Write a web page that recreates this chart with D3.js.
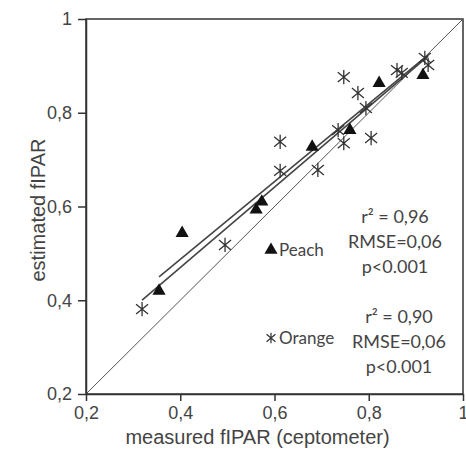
<!DOCTYPE html>
<html>
<head>
<meta charset="utf-8">
<script src="https://cdn.jsdelivr.net/npm/d3@7"></script>
<style>
    body { margin: 0; background: #fff; }
</style>
</head>
<body>
<svg id="drawing_region"></svg>
<script>
// peach (triangles)
const peach_x = [0.355, 0.404, 0.561, 0.573, 0.680, 0.760, 0.822, 0.915];
const peach_y = [0.420, 0.543, 0.593, 0.610, 0.727, 0.763, 0.863, 0.880];
// orange (asterisks)
const orange_x = [0.319, 0.495, 0.612, 0.612, 0.692, 0.747, 0.735, 0.805, 0.747, 0.777, 0.794, 0.860, 0.870, 0.919, 0.926];
const orange_y = [0.381, 0.518, 0.676, 0.738, 0.678, 0.735, 0.763, 0.746, 0.876, 0.842, 0.810, 0.891, 0.885, 0.917, 0.902];
// regression fits [slope, intercept]
const peach_fit = [0.83, 0.155];
const orange_fit = [0.857, 0.127];

const x_ticks = [0.2, 0.4, 0.6, 0.8, 1];
const y_ticks = [0.2, 0.4, 0.6, 0.8, 1];
const peach_stats = ["r\u00b2 = 0,96", "RMSE=0,06", "p<0.001"];
const orange_stats = ["r\u00b2 = 0,90", "RMSE=0,06", "p<0.001"];

var config = {
    parent: '#drawing_region',
    width: 466,
    height: 457,
    margin: {top:19, right:3, bottom:63, left:86}
};

// asterisk marker: vertical bar plus an X
const asterisk = {
    draw: function(context, size) {
        const r = Math.sqrt(size) / 2;
        context.moveTo(0, -r); context.lineTo(0, r);
        context.moveTo(-r * 0.85, -r * 0.7); context.lineTo(r * 0.85, r * 0.7);
        context.moveTo(-r * 0.85, r * 0.7); context.lineTo(r * 0.85, -r * 0.7);
    }
};

class ScatterPlot {

    constructor( config ) {
        this.config = config;
        this.init();
    }

    init() {
        let self = this;

        self.svg = d3.select( self.config.parent )
            .attr('width', self.config.width)
            .attr('height', self.config.height);

        self.chart = self.svg.append('g')
            .attr('transform', `translate(${self.config.margin.left}, ${self.config.margin.top})`);

        self.inner_width = self.config.width - self.config.margin.left - self.config.margin.right;
        self.inner_height = self.config.height - self.config.margin.top - self.config.margin.bottom;

        self.xscale = d3.scaleLinear()
            .domain( [0.2, 1] )
            .range( [0, self.inner_width] );

        self.yscale = d3.scaleLinear()
            .domain( [0.2, 1] )
            .range( [self.inner_height, 0] );

        const fmt = d => String(d).replace('.', ',');

        self.xaxis = d3.axisBottom( self.xscale )
            .tickValues( x_ticks )
            .tickFormat( fmt )
            .tickSizeInner(7)
            .tickSizeOuter(0)
            .tickPadding(5);

        self.yaxis = d3.axisLeft( self.yscale )
            .tickValues( y_ticks )
            .tickFormat( fmt )
            .tickSizeInner(8)
            .tickSizeOuter(0)
            .tickPadding(6);
    }

    render() {
        let self = this;
        const ink = '#333';

        // frame
        self.chart.append('rect')
            .attr('width', self.inner_width)
            .attr('height', self.inner_height)
            .attr('fill', 'none')
            .attr('stroke', ink)
            .attr('stroke-width', 1.5);

        // 1:1 line
        self.chart.append('line')
            .attr('x1', self.xscale(0.2)).attr('y1', self.yscale(0.2))
            .attr('x2', self.xscale(1)).attr('y2', self.yscale(1))
            .attr('stroke', '#555')
            .attr('stroke-width', 1);

        // regression lines over each series' x range
        const fits = [
            { xs: peach_x, fit: peach_fit },
            { xs: orange_x, fit: orange_fit }
        ];
        self.chart.selectAll('.fit')
            .data(fits)
            .enter()
            .append('line')
            .attr('class', 'fit')
            .attr('x1', d => self.xscale( d3.min(d.xs) ))
            .attr('y1', d => self.yscale( d.fit[0] * d3.min(d.xs) + d.fit[1] ))
            .attr('x2', d => self.xscale( d3.max(d.xs) ))
            .attr('y2', d => self.yscale( d.fit[0] * d3.max(d.xs) + d.fit[1] ))
            .attr('stroke', '#444')
            .attr('stroke-width', 1.6);

        // orange points
        self.chart.selectAll('.orange')
            .data( d3.zip(orange_x, orange_y) )
            .enter()
            .append('path')
            .attr('class', 'orange')
            .attr('transform', d => `translate(${self.xscale(d[0])}, ${self.yscale(d[1])})`)
            .attr('d', d3.symbol().type(asterisk).size(200))
            .attr('fill', 'none')
            .attr('stroke', ink)
            .attr('stroke-width', 1.3);

        // peach points
        self.chart.selectAll('.peach')
            .data( d3.zip(peach_x, peach_y) )
            .enter()
            .append('path')
            .attr('class', 'peach')
            .attr('transform', d => `translate(${self.xscale(d[0])}, ${self.yscale(d[1])})`)
            .attr('d', d3.symbol().type(d3.symbolTriangle).size(75))
            .attr('fill', '#111');

        // axes
        const xg = self.chart.append('g')
            .attr('transform', `translate(0, ${self.inner_height})`)
            .call( self.xaxis );
        const yg = self.chart.append('g')
            .call( self.yaxis );
        [xg, yg].forEach( g => {
            g.select('.domain').attr('stroke', ink).attr('stroke-width', 1.5);
            g.selectAll('.tick line').attr('stroke', ink).attr('stroke-width', 1.5);
            g.selectAll('.tick text')
                .attr('fill', '#444')
                .attr('font-family', 'Liberation Sans, Arial, sans-serif')
                .attr('font-size', '18px');
        });

        self.svg.append('text')
            .attr('x', self.config.margin.left + self.inner_width / 2 - 17)
            .attr('y', 444)
            .attr('text-anchor', 'middle')
            .attr('fill', '#444')
            .attr('font-family', 'Liberation Sans, Arial, sans-serif')
            .attr('font-size', '20px')
            .text('measured fIPAR (ceptometer)');

        self.svg.append('text')
            .attr('transform', `translate(45, 210) rotate(-90)`)
            .attr('text-anchor', 'middle')
            .attr('fill', '#444')
            .attr('font-family', 'Liberation Sans, Arial, sans-serif')
            .attr('font-size', '20px')
            .text('estimated fIPAR');

        // legend
        const legend = [
            { name: 'Peach', y: 250, type: d3.symbolTriangle, fill: '#111', size: 75 },
            { name: 'Orange', y: 338, type: asterisk, fill: 'none', size: 110 }
        ];
        const lg = self.svg.selectAll('.legend')
            .data(legend)
            .enter()
            .append('g')
            .attr('class', 'legend')
            .attr('transform', d => `translate(271, ${d.y})`);
        lg.append('path')
            .attr('d', d => d3.symbol().type(d.type).size(d.size)())
            .attr('fill', d => d.fill)
            .attr('stroke', d => d.fill === 'none' ? ink : null)
            .attr('stroke-width', 1.2);
        lg.append('text')
            .attr('x', 8)
            .attr('y', 6)
            .attr('fill', '#444')
            .attr('font-family', 'Lato, sans-serif')
            .attr('font-size', '17px')
            .text(d => d.name);

        // statistics
        const stats = [
            { lines: peach_stats, x: 395, y: 223 },
            { lines: orange_stats, x: 399, y: 323 }
        ];
        stats.forEach( s => {
            self.svg.selectAll(null)
                .data(s.lines)
                .enter()
                .append('text')
                .attr('x', s.x)
                .attr('y', (d, i) => s.y + i * 25)
                .attr('text-anchor', 'middle')
                .attr('fill', '#444')
                .attr('font-family', 'Lato, sans-serif')
                .attr('font-size', '18px')
                .text(d => d);
        });
    }
}

const scatter_plot = new ScatterPlot( config );
scatter_plot.render();
</script>
</body>
</html>
